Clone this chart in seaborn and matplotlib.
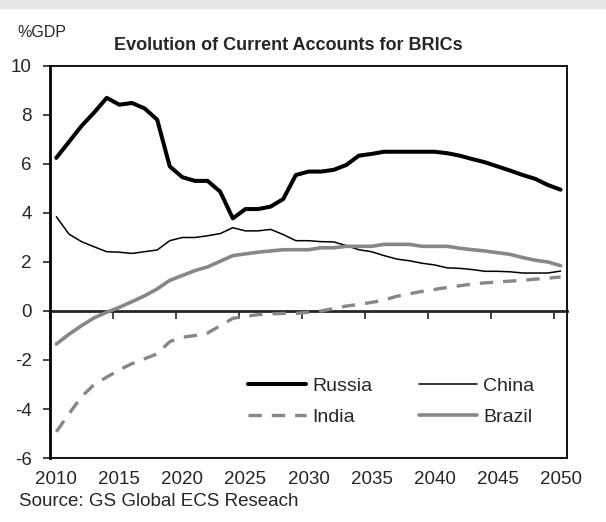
"""
Evolution of Current Accounts for BRICs (%GDP), 2010-2050
"""
import numpy as np
import pandas as pd
import matplotlib
matplotlib.use('Agg')
import matplotlib.pyplot as plt
from matplotlib.patches import Rectangle
import seaborn as sns

# Duomenys (nuskaityti nuo paveikslo)
years = list(range(2010, 2051))

russia = [6.25, 6.9, 7.55, 8.1, 8.7, 8.42, 8.49, 8.27, 7.81, 5.9,
          5.46, 5.31, 5.31, 4.87, 3.78, 4.16, 4.16, 4.26, 4.57, 5.55,
          5.69, 5.69, 5.76, 5.96, 6.34, 6.41, 6.5, 6.5, 6.5, 6.5,
          6.5, 6.44, 6.34, 6.2, 6.07, 5.9, 5.73, 5.55, 5.39, 5.14, 4.95]

china = [3.85, 3.14, 2.83, 2.62, 2.42, 2.4, 2.35, 2.42, 2.49, 2.87,
         3.0, 3.0, 3.07, 3.16, 3.4, 3.27, 3.27, 3.33, 3.12, 2.87,
         2.87, 2.83, 2.82, 2.67, 2.5, 2.42, 2.26, 2.12, 2.05, 1.95,
         1.88, 1.76, 1.74, 1.69, 1.62, 1.62, 1.6, 1.55, 1.55, 1.55, 1.63]

india = [-4.93, -4.2, -3.5, -3.0, -2.7, -2.4, -2.15, -1.95, -1.75, -1.25,
         -1.07, -1.0, -0.9, -0.6, -0.3, -0.22, -0.15, -0.12, -0.1, -0.1,
         -0.05, 0.0, 0.1, 0.2, 0.27, 0.35, 0.45, 0.6, 0.7, 0.8,
         0.88, 0.96, 1.03, 1.1, 1.15, 1.18, 1.22, 1.25, 1.3, 1.34, 1.39]

brazil = [-1.35, -0.95, -0.6, -0.28, -0.05, 0.15, 0.38, 0.62, 0.9, 1.25,
          1.45, 1.65, 1.8, 2.03, 2.26, 2.33, 2.4, 2.45, 2.5, 2.5,
          2.5, 2.58, 2.58, 2.64, 2.64, 2.64, 2.72, 2.72, 2.72, 2.64,
          2.64, 2.64, 2.56, 2.5, 2.45, 2.38, 2.31, 2.18, 2.07, 2.0, 1.85]

countries = ['Russia', 'China', 'India', 'Brazil']
x_tick_labels = [str(y) for y in range(2010, 2051, 5)]
y_ticks = list(range(-6, 11, 2))

df = pd.DataFrame({
    'year': years * 4,
    'value': russia + china + india + brazil,
    'country': [c for c in countries for _ in years],
})

sns.set_style('white')
plt.rcParams['font.family'] = ['Liberation Sans', 'DejaVu Sans']
plt.rcParams['axes.unicode_minus'] = False

fig = plt.figure(figsize=(6.06, 5.22), dpi=100)
ax = fig.add_axes([0.0825, 0.1226, 0.853, 0.751])

gray = '#878787'
palette = {'Russia': 'black', 'China': 'black', 'India': gray, 'Brazil': gray}
sizes = {'Russia': 2.9, 'China': 1.1, 'India': 2.4, 'Brazil': 2.6}
dashes = {'Russia': '', 'China': '', 'India': (4, 3), 'Brazil': ''}

sns.lineplot(data=df, x='year', y='value', hue='country', size='country',
             style='country', palette=palette, sizes=sizes, dashes=dashes,
             hue_order=countries, ax=ax, legend=False)

ax.set_xlim(2009.5, 2050.5)
ax.set_ylim(-6, 10)
ax.set_yticks(y_ticks)
ax.set_xticks(range(2010, 2051, 5))
ax.set_xticklabels(x_tick_labels)
ax.tick_params(axis='x', length=0, labelsize=13.5, pad=9)
ax.tick_params(axis='y', direction='out', length=5, width=1.2, labelsize=13.5,
               pad=8, left=True)
ax.set_xlabel('')
ax.set_ylabel('')
for sp in ax.spines.values():
    sp.set_visible(True)
    sp.set_color('black')
    sp.set_linewidth(1.3)
ax.spines['left'].set_linewidth(2)

# nulinė ašis su padalomis tarp kategorijų
sec = ax.secondary_xaxis(6 / 16)
sec.set_xticks(np.arange(2009.5, 2050, 5))
sec.set_xticklabels([])
sec.tick_params(direction='out', length=6, width=1.2)
sec.spines['bottom'].set_linewidth(2)

# legenda
order = ['Russia', 'India', 'China', 'Brazil']
handles = []
for c in order:
    h = plt.Line2D([], [], color=palette[c], lw=sizes[c])
    if dashes[c]:
        h.set_dashes(dashes[c])
    handles.append(h)
leg = ax.legend(handles, order, ncol=2,
                loc='upper left', bbox_to_anchor=(0.383, 0.206),
                frameon=False, fontsize=14, handlelength=3.0,
                handletextpad=0.3, columnspacing=2.4, labelspacing=0.7,
                borderpad=0, borderaxespad=0)

fig.text(0.475, 0.912, 'Evolution of Current Accounts for BRICs',
         ha='center', va='center', fontsize=13, fontweight='bold')
fig.text(0.029, 0.938, '%GDP', ha='left', va='center', fontsize=11.5)
fig.text(0.031, 0.04, 'Source: GS Global ECS Reseach', ha='left', va='center',
         fontsize=13.5)

fig.patches.append(Rectangle((0, 1 - 8 / 522), 1, 8 / 522, transform=fig.transFigure,
                             color='#e6e6e6', zorder=-1))

fig.savefig('out.png', dpi=100, facecolor='white')
